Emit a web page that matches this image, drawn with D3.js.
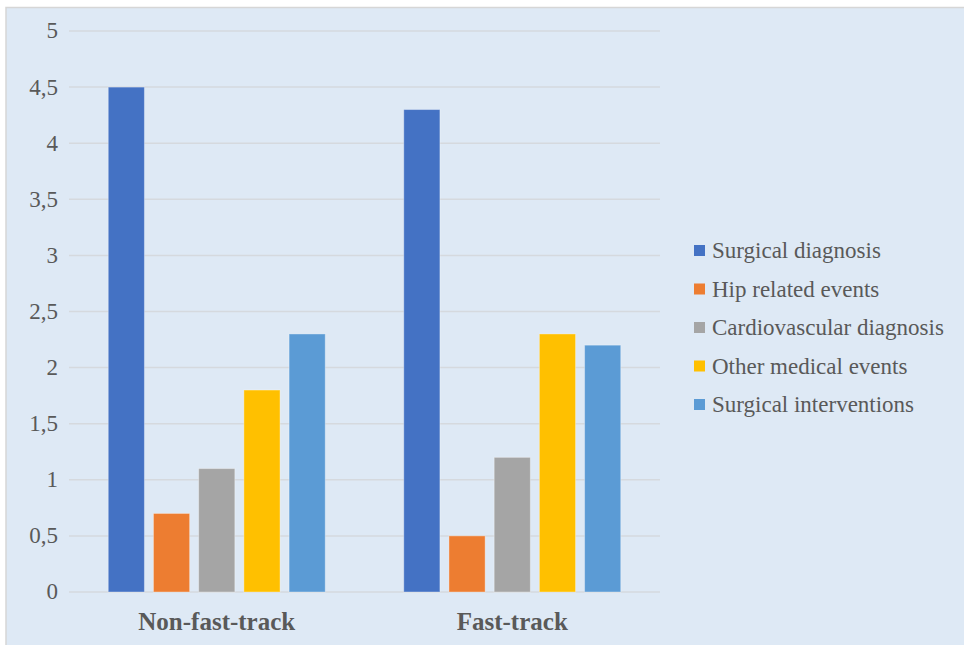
<!DOCTYPE html>
<html>
<head>
<meta charset="utf-8">
<script src="https://cdn.jsdelivr.net/npm/d3@7"></script>
<style>
  html, body { margin: 0; padding: 0; background: #ffffff; }
  svg { display: block; }
</style>
</head>
<body>
<svg id="chart" width="964" height="645"></svg>
<script>
// Groups along the x axis
const categories = ["Non-fast-track", "Fast-track"];
// Event types, one bar each per group
const seriesNames = [
  "Surgical diagnosis",
  "Hip related events",
  "Cardiovascular diagnosis",
  "Other medical events",
  "Surgical interventions"
];
// Values per series, in the order of categories
const surgicalDiagnosis = [4.5, 4.3];
const hipRelated = [0.7, 0.5];
const cardiovascular = [1.1, 1.2];
const otherMedical = [1.8, 2.3];
const surgicalInterventions = [2.3, 2.2];
const yTicks = [0, 0.5, 1, 1.5, 2, 2.5, 3, 3.5, 4, 4.5, 5];
const colors = ["#4472C4", "#ED7D31", "#A5A5A5", "#FFC000", "#5B9BD5"];

const seriesValues = [surgicalDiagnosis, hipRelated, cardiovascular, otherMedical, surgicalInterventions];

const svg = d3.select("#chart");
const W = 964, H = 645;
const serif = "'Liberation Serif', 'Times New Roman', Times, serif";

// Panel background with a thin border
svg.append("rect")
  .attr("x", 6).attr("y", 7.5)
  .attr("width", W).attr("height", H)
  .attr("fill", "#dee9f5")
  .attr("stroke", "#d6d6d6")
  .attr("stroke-width", 1.5);

const plot = { left: 69, right: 660, top: 31, bottom: 592 };

const y = d3.scaleLinear().domain([0, 5]).range([plot.bottom, plot.top]);
const x0 = d3.scaleBand().domain(categories).range([plot.left, plot.right]).padding(0);
const groupSpan = 217;
const off = (x0.bandwidth() - groupSpan) / 2;
const x1 = d3.scaleBand().domain(seriesNames).range([off, off + groupSpan]).paddingInner(0.2).paddingOuter(0);

const fmt = v => String(v).replace(".", ",");

// Horizontal gridlines
svg.append("g")
  .selectAll("line")
  .data(yTicks)
  .join("line")
  .attr("x1", plot.left).attr("x2", plot.right)
  .attr("y1", d => y(d)).attr("y2", d => y(d))
  .attr("stroke", "#d5d9de")
  .attr("stroke-width", 1.5);

// Y axis tick labels
const yAxis = d3.axisLeft(y).tickValues(yTicks).tickFormat(fmt).tickSize(0).tickPadding(0);
const gy = svg.append("g").attr("transform", `translate(58,0)`).call(yAxis);
gy.select(".domain").remove();
gy.selectAll("text")
  .attr("font-family", serif)
  .attr("font-size", 23)
  .attr("fill", "#595959")
  .attr("dy", "0.3em");

// Bars
const groups = svg.append("g")
  .selectAll("g")
  .data(categories)
  .join("g")
  .attr("transform", d => `translate(${x0(d)},0)`);

groups.selectAll("rect")
  .data((c, ci) => seriesNames.map((s, si) => ({ s, si, v: seriesValues[si][ci] })))
  .join("rect")
  .attr("x", d => x1(d.s))
  .attr("width", x1.bandwidth())
  .attr("y", d => y(d.v))
  .attr("height", d => y(0) - y(d.v))
  .attr("fill", d => colors[d.si])
  .attr("stroke", "rgba(255,255,255,0.35)")
  .attr("stroke-width", 1);

// Category labels
const xAxis = d3.axisBottom(x0).tickSize(0).tickPadding(0);
const gx = svg.append("g").attr("transform", `translate(0,${plot.bottom})`).call(xAxis);
gx.select(".domain").remove();
gx.selectAll("text")
  .attr("y", 38)
  .attr("dy", 0)
  .attr("font-family", serif)
  .attr("font-size", 25)
  .attr("font-weight", "bold")
  .attr("fill", "#595959");

// Legend
const legend = svg.append("g").attr("transform", "translate(694,251)");
const items = legend.selectAll("g")
  .data(seriesNames)
  .join("g")
  .attr("transform", (d, i) => `translate(0,${i * 38.5})`);
items.append("rect")
  .attr("x", 0).attr("y", -6)
  .attr("width", 11).attr("height", 11)
  .attr("fill", (d, i) => colors[i]);
items.append("text")
  .attr("x", 18).attr("y", 0)
  .attr("dy", "0.32em")
  .attr("font-family", serif)
  .attr("font-size", 23)
  .attr("fill", "#595959")
  .text(d => d);
</script>
</body>
</html>
